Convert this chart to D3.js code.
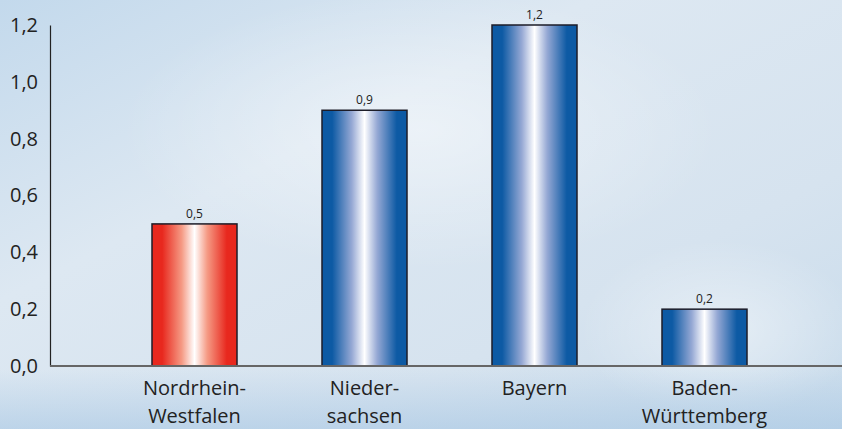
<!DOCTYPE html>
<html>
<head>
<meta charset="utf-8">
<script src="https://cdn.jsdelivr.net/npm/d3@7"></script>
<style>
  body { margin: 0; }
  svg { display: block; font-family: "Open Sans", "DejaVu Sans", sans-serif; }
</style>
</head>
<body>
<svg id="chart" width="842" height="429"></svg>
<script>
// data
const categories = ["Nordrhein-\nWestfalen", "Nieder-\nsachsen", "Bayern", "Baden-\nWürttemberg"];
const values = [0.5, 0.9, 1.2, 0.2];
const highlight = [true, false, false, false];
const yTicks = [0, 0.2, 0.4, 0.6, 0.8, 1.0, 1.2];

const width = 842, height = 429;
const svg = d3.select("#chart");
const defs = svg.append("defs");

// background
let bg = defs.append("linearGradient").attr("id", "bg")
    .attr("x1", 0).attr("y1", 0).attr("x2", 1).attr("y2", 1);
bg.append("stop").attr("offset", "0%").attr("stop-color", "#c3d9ec");
bg.append("stop").attr("offset", "35%").attr("stop-color", "#dde8f2");
bg.append("stop").attr("offset", "70%").attr("stop-color", "#d6e3ef");
bg.append("stop").attr("offset", "100%").attr("stop-color", "#c8dbeb");
svg.append("rect").attr("width", width).attr("height", height).attr("fill", "url(#bg)");

let glow = defs.append("radialGradient").attr("id", "glow");
glow.append("stop").attr("offset", "0%").attr("stop-color", "#ffffff").attr("stop-opacity", 0.45);
glow.append("stop").attr("offset", "100%").attr("stop-color", "#ffffff").attr("stop-opacity", 0);
svg.append("ellipse").attr("cx", 420).attr("cy", 130).attr("rx", 300).attr("ry", 140).attr("fill", "url(#glow)");
svg.append("ellipse").attr("cx", 720).attr("cy", 330).attr("rx", 140).attr("ry", 90).attr("fill", "url(#glow)");
// bottom bluish band
let bot = defs.append("linearGradient").attr("id", "bot").attr("x1", 0).attr("y1", 0).attr("x2", 0).attr("y2", 1);
bot.append("stop").attr("offset", "0%").attr("stop-color", "#a9c8e4").attr("stop-opacity", 0);
bot.append("stop").attr("offset", "100%").attr("stop-color", "#a9c8e4").attr("stop-opacity", 0.6);
svg.append("rect").attr("x", 0).attr("y", 370).attr("width", width).attr("height", 59).attr("fill", "url(#bot)");

// bar gradients
function barGrad(id, edge, mid) {
    let g = defs.append("linearGradient").attr("id", id).attr("x1", 0).attr("x2", 1).attr("y1", 0).attr("y2", 0);
    g.append("stop").attr("offset", "0%").attr("stop-color", edge);
    g.append("stop").attr("offset", "12%").attr("stop-color", edge);
    g.append("stop").attr("offset", "35%").attr("stop-color", mid);
    g.append("stop").attr("offset", "50%").attr("stop-color", "#ffffff");
    g.append("stop").attr("offset", "65%").attr("stop-color", mid);
    g.append("stop").attr("offset", "88%").attr("stop-color", edge);
    g.append("stop").attr("offset", "100%").attr("stop-color", edge);
}
barGrad("blue", "#0d5aa4", "#95a8d4");
barGrad("red", "#e8281e", "#f59a84");

// scales
let x = d3.scaleBand()
    .domain(categories)
    .range([109.5, 789.5])
    .paddingInner(0.5)
    .paddingOuter(0.25);

let y = d3.scaleLinear()
    .domain([0, 1.2])
    .range([366, 25]);

const fmt = v => d3.format(".1f")(v).replace(".", ",");

// y axis
let yAxis = svg.append("g")
    .attr("transform", "translate(50,0)")
    .call(d3.axisLeft(y).tickValues(yTicks).tickSize(0).tickPadding(12).tickFormat(fmt));
yAxis.attr("font-size", null).attr("font-family", null);
yAxis.select(".domain").attr("stroke", "#222").attr("stroke-width", 1.2);
yAxis.selectAll("text").style("font-size", "20px").attr("fill", "#222");

// bars
svg.append("g")
    .selectAll("rect")
    .data(values)
    .enter().append("rect")
        .attr("x", (d, i) => x(categories[i]))
        .attr("y", d => y(d))
        .attr("width", x.bandwidth())
        .attr("height", d => y(0) - y(d))
        .attr("fill", (d, i) => highlight[i] ? "url(#red)" : "url(#blue)")
        .attr("stroke", "#1c1c28")
        .attr("stroke-width", 1.5);

// x axis line
svg.append("line")
    .attr("x1", 50).attr("x2", width)
    .attr("y1", y(0)).attr("y2", y(0))
    .attr("stroke", "#666").attr("stroke-width", 2);

// value labels
svg.append("g")
    .selectAll("text")
    .data(values)
    .enter().append("text")
        .attr("x", (d, i) => x(categories[i]) + x.bandwidth() / 2)
        .attr("y", d => y(d) - 6)
        .attr("text-anchor", "middle")
        .style("font-size", "12px")
        .attr("fill", "#222")
        .text(fmt);

// category labels, one text per line
let lines = [];
categories.forEach(c => c.split("\n").forEach((t, i) => lines.push({ cat: c, text: t, line: i })));
svg.append("g")
    .selectAll("text")
    .data(lines)
    .enter().append("text")
        .attr("x", d => x(d.cat) + x.bandwidth() / 2)
        .attr("y", d => 395 + d.line * 27.5)
        .attr("text-anchor", "middle")
        .style("font-size", "20px")
        .attr("fill", "#222")
        .text(d => d.text);
</script>
</body>
</html>
